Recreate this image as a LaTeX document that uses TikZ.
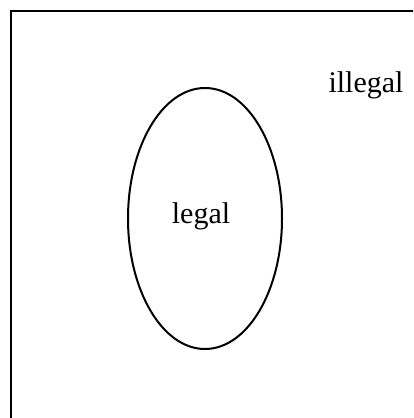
\documentclass[tikz,border=0pt]{standalone}
\usepackage{fontspec}
\setmainfont{Liberation Serif}
\usetikzlibrary{shapes.geometric}
\tikzset{
  line/.style={draw=black, line width=2pt},
  lbl/.style={anchor=base, inner sep=0pt, font=\fontsize{30}{36}\selectfont}
}
\begin{document}
\begin{tikzpicture}[x=1pt,y=1pt]
\useasboundingbox (0,0) rectangle (413,418);
\clip (0,0) rectangle (413,418);
\fill[white] (0,0) rectangle (413,418);
\draw[line] (11,-20) rectangle (440,407);
\node[line, ellipse, minimum width=154pt, minimum height=261pt, inner sep=0pt] (legalset) at (205,199.5) {};
\node[lbl] (legal) at (201,194) {legal};
\node[lbl] (illegal) at (366,325) {illegal};
\end{tikzpicture}
\end{document}
